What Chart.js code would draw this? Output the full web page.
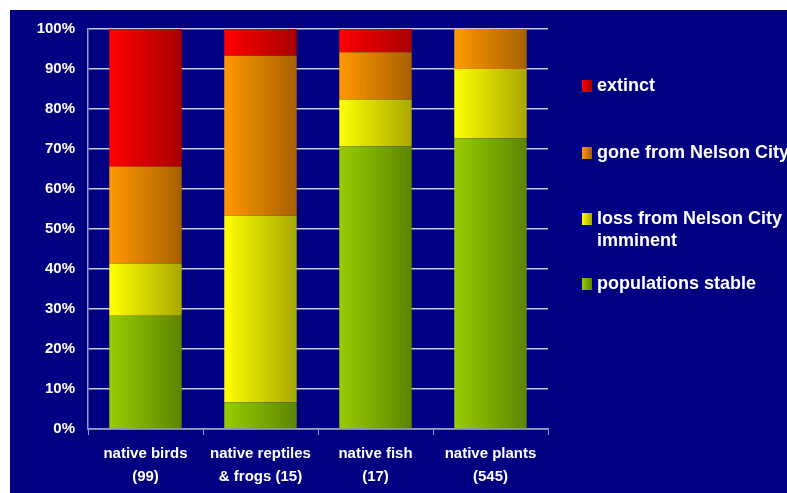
<!DOCTYPE html>
<html lang="en">
<head>
<meta charset="UTF-8">
<title>Native species status, Nelson City</title>
<script src="https://cdn.jsdelivr.net/npm/chart.js"></script>
<style>
  html, body { margin: 0; padding: 0; background: #ffffff; }
  #wrap { width: 787px; height: 493px; position: relative; }
</style>
</head>
<body>
<div id="wrap"><canvas id="chart" width="787" height="493"></canvas></div>
<script>
// categories along the x axis (two-line labels)
const categories = [
    ['native birds', '(99)'],
    ['native reptiles', '& frogs (15)'],
    ['native fish', '(17)'],
    ['native plants', '(545)']
];

// percent of each group (bottom to top of the stack)
const stable    = [28.3,  6.7, 70.6, 72.7];
const imminent  = [13.1, 46.6, 11.8, 17.3];
const gone      = [24.2, 40.0, 11.8, 10.0];
const extinct   = [34.4,  6.7,  5.8,  0.0];

const seriesNames = ['populations stable', 'loss from Nelson City imminent', 'gone from Nelson City', 'extinct'];
const yTicks = [0, 10, 20, 30, 40, 50, 60, 70, 80, 90, 100];

// light / dark end of each bar's horizontal gradient
const shades = {
    stable:   ['#99cc00', '#5e8400'],
    imminent: ['#ffff00', '#a8a800'],
    gone:     ['#ff9900', '#a86000'],
    extinct:  ['#ff0000', '#a80000']
};

const BAR_PCT = 0.63;

function barGradient(light, dark) {
    return function(context) {
        const chart = context.chart;
        const xs = chart.scales && chart.scales.x;
        if (!xs || typeof context.dataIndex !== 'number') return light;
        const cx = xs.getPixelForValue(context.dataIndex);
        const half = (xs.width / categories.length) * BAR_PCT / 2;
        if (!isFinite(cx) || !isFinite(half) || half <= 0) return light;
        const g = chart.ctx.createLinearGradient(cx - half, 0, cx + half, 0);
        g.addColorStop(0, light);
        g.addColorStop(1, dark);
        return g;
    };
}

// navy panel behind everything
const panel = {
    id: 'panel',
    beforeDraw(chart) {
        const ctx = chart.ctx;
        ctx.save();
        ctx.fillStyle = '#ffffff';
        ctx.fillRect(0, 0, chart.width, chart.height);
        ctx.fillStyle = '#000080';
        ctx.fillRect(10, 10, chart.width - 10, chart.height - 10);
        ctx.restore();
    }
};

// legend on the right, top series first
const sideLegend = {
    id: 'sideLegend',
    afterDraw(chart) {
        const ctx = chart.ctx;
        const tops = [86, 153, 219, 284];
        const sets = chart.data.datasets.slice().reverse();
        ctx.save();
        ctx.font = 'bold 18px Arial, "Liberation Sans", sans-serif';
        ctx.textBaseline = 'middle';
        sets.forEach((ds, i) => {
            const y = tops[i];
            const g = ctx.createLinearGradient(582, 0, 592, 0);
            g.addColorStop(0, ds.shade[0]);
            g.addColorStop(1, ds.shade[1]);
            ctx.fillStyle = g;
            ctx.fillRect(582, y - 6, 10, 12);
            ctx.fillStyle = '#ffffff';
            // wrap long labels
            const words = ds.label.split(' ');
            const lines = [];
            let line = '';
            words.forEach(w => {
                const test = line ? line + ' ' + w : w;
                if (ctx.measureText(test).width > 200 && line) {
                    lines.push(line);
                    line = w;
                } else {
                    line = test;
                }
            });
            lines.push(line);
            lines.forEach((t, k) => ctx.fillText(t, 597, y + k * 22));
        });
        ctx.restore();
    }
};

const ctx = document.getElementById('chart').getContext('2d');
new Chart(ctx, {
    type: 'bar',
    data: {
        labels: categories,
        datasets: [
            { label: seriesNames[0], data: stable,   shade: shades.stable,   backgroundColor: barGradient(...shades.stable) },
            { label: seriesNames[1], data: imminent, shade: shades.imminent, backgroundColor: barGradient(...shades.imminent) },
            { label: seriesNames[2], data: gone,     shade: shades.gone,     backgroundColor: barGradient(...shades.gone) },
            { label: seriesNames[3], data: extinct,  shade: shades.extinct,  backgroundColor: barGradient(...shades.extinct) }
        ]
    },
    options: {
        responsive: false,
        animation: false,
        layout: { padding: { left: 0, top: 29, right: 239, bottom: 0 } },
        datasets: {
            bar: { barPercentage: BAR_PCT, categoryPercentage: 1.0, borderWidth: 0 }
        },
        plugins: {
            legend: { display: false },
            tooltip: { enabled: false }
        },
        scales: {
            x: {
                stacked: true,
                afterFit: (scale) => { scale.height = 64; },
                grid: {
                    drawOnChartArea: false,
                    drawTicks: true,
                    tickLength: 6,
                    color: '#9a9ac8'
                },
                border: { color: '#9a9ac8', width: 1.5 },
                ticks: {
                    color: '#ffffff',
                    padding: 7,
                    maxRotation: 0,
                    font: { family: 'Arial, "Liberation Sans", sans-serif', size: 15, weight: 'bold', lineHeight: 1.53 }
                }
            },
            y: {
                stacked: true,
                min: 0,
                max: 100,
                afterFit: (scale) => { scale.width = 88; },
                afterBuildTicks: (scale) => { scale.ticks = yTicks.map(v => ({ value: v })); },
                grid: {
                    color: 'rgba(235,235,250,0.85)',
                    lineWidth: 1.5,
                    drawTicks: false
                },
                border: { color: '#9a9ac8', width: 1.5 },
                ticks: {
                    color: '#ffffff',
                    padding: 13,
                    callback: (v) => v + '%',
                    font: { family: 'Arial, "Liberation Sans", sans-serif', size: 15, weight: 'bold' }
                }
            }
        }
    },
    plugins: [panel, sideLegend]
});
</script>
</body>
</html>
